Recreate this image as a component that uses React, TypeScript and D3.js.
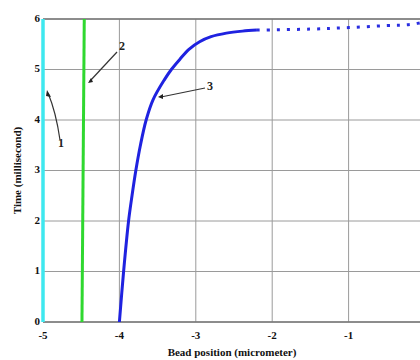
import * as d3 from "d3";
import React from "react";

// tick values
const xTicks = [-5, -4, -3, -2, -1, 0];
const yTicks = [0, 1, 2, 3, 4, 5, 6];

// curve 1 (cyan) and curve 2 (green): nearly vertical lines
const cyanX = [-5, -5];
const cyanT = [0, 6];
const greenX = [-4.49, -4.46];
const greenT = [0, 6];

// curve 3 (blue), solid part
const blueX = [-4.0, -3.945, -3.88, -3.835, -3.785, -3.725, -3.65, -3.56, -3.41, -3.32, -3.21, -3.09, -2.95, -2.8, -2.6, -2.39, -2.2];
const blueT = [0, 1, 2, 2.5, 3, 3.5, 4, 4.4, 4.8, 5, 5.2, 5.4, 5.55, 5.65, 5.72, 5.76, 5.78];
// curve 3, dotted tail
const tailX = [-2.2, -1.5, -1.0, -0.5, -0.2, 0.05];
const tailT = [5.78, 5.8, 5.83, 5.87, 5.89, 5.96];

const W = 420;
const H = 360;
const m = { top: 19, left: 43, bottom: 322, right: 425 };
const font = "'Liberation Serif', 'Times New Roman', serif";

export default function App() {
  const x = d3.scaleLinear().domain([-5, 0]).range([m.left, m.right]);
  const y = d3.scaleLinear().domain([0, 6]).range([m.bottom, m.top]);

  const line = d3
    .line<[number, number]>()
    .x((d) => x(d[0]))
    .y((d) => y(d[1]));
  const smooth = d3
    .line<[number, number]>()
    .x((d) => x(d[0]))
    .y((d) => y(d[1]))
    .curve(d3.curveCatmullRom.alpha(0.5));

  const pts = (xs: number[], ts: number[]) => xs.map((v, i) => [v, ts[i]] as [number, number]);

  return (
    <div style={{ position: "fixed", left: 0, top: 0, background: "#fff" }}>
      <svg width={W} height={H} style={{ display: "block" }}>
        <defs>
          <clipPath id="plot">
            <rect x={m.left - 3} y={m.top - 3} width={m.right - m.left + 6} height={m.bottom - m.top + 6} />
          </clipPath>
        </defs>
        <rect width={W} height={H} fill="#fff" />

        {/* grid */}
        {xTicks.map((t) => (
          <line key={"gx" + t} x1={x(t)} x2={x(t)} y1={m.top} y2={m.bottom} stroke="#9a9a9a" strokeWidth={1} />
        ))}
        {yTicks.map((t) => (
          <line key={"gy" + t} x1={m.left} x2={m.right} y1={y(t)} y2={y(t)} stroke="#9a9a9a" strokeWidth={1} />
        ))}
        <line x1={m.left} x2={m.right} y1={m.top} y2={m.top} stroke="#777" strokeWidth={1.5} />
        <line x1={m.left} x2={m.right} y1={m.bottom} y2={m.bottom} stroke="#777" strokeWidth={1.5} />
        <line x1={m.left} x2={m.left} y1={m.top} y2={m.bottom} stroke="#777" strokeWidth={1.5} />

        <g clipPath="url(#plot)">
          <path d={line(pts(cyanX, cyanT)) ?? undefined} fill="none" stroke="#3ee8ef" strokeWidth={3.5} />
          <path d={line(pts(greenX, greenT)) ?? undefined} fill="none" stroke="#2fd82f" strokeWidth={3} />
          <path d={smooth(pts(blueX, blueT)) ?? undefined} fill="none" stroke="#1f22e0" strokeWidth={3} />
          <path
            d={smooth(pts(tailX, tailT)) ?? undefined}
            fill="none"
            stroke="#2a2ee0"
            strokeWidth={3}
            strokeDasharray="3 7"
          />
        </g>

        {/* annotations */}
        <g stroke="#333" strokeWidth={1.2} fill="none">
          <path d="M60,140 Q56,112 48,93" />
          <path d="M117,52 L90,81" />
          <path d="M205,88 L161,97" />
        </g>
        <g fill="#222">
          <path d="M47,90 L51,97 L46,96 Z" />
          <path d="M88,83 L91,78 L93,82 Z" />
          <path d="M158,97 L163,94 L163,99 Z" />
        </g>
        <g fontFamily={font} fontWeight="bold" fontSize={12} fill="#222">
          <text x={58} y={147}>1</text>
          <text x={119} y={50}>2</text>
          <text x={207} y={90}>3</text>
        </g>

        {/* tick labels */}
        <g fontFamily={font} fontWeight="bold" fontSize={11} fill="#111">
          {yTicks.map((t) => (
            <text key={"ty" + t} x={m.left - 3} y={y(t)} textAnchor="end" dominantBaseline="middle">
              {t}
            </text>
          ))}
          {xTicks.map((t) => (
            <text key={"tx" + t} x={x(t)} y={339} textAnchor="middle">
              {t === 0 ? "0" : "-" + Math.abs(t)}
            </text>
          ))}
        </g>

        <text
          x={(m.left + m.right) / 2 - 2}
          y={356}
          textAnchor="middle"
          fontFamily={font}
          fontWeight="bold"
          fontSize={11}
          fill="#111"
        >
          Bead position (micrometer)
        </text>
        <text
          transform={`translate(21,${(m.top + m.bottom) / 2}) rotate(-90)`}
          textAnchor="middle"
          fontFamily={font}
          fontWeight="bold"
          fontSize={11}
          fill="#111"
        >
          Time (millisecond)
        </text>
      </svg>
    </div>
  );
}
